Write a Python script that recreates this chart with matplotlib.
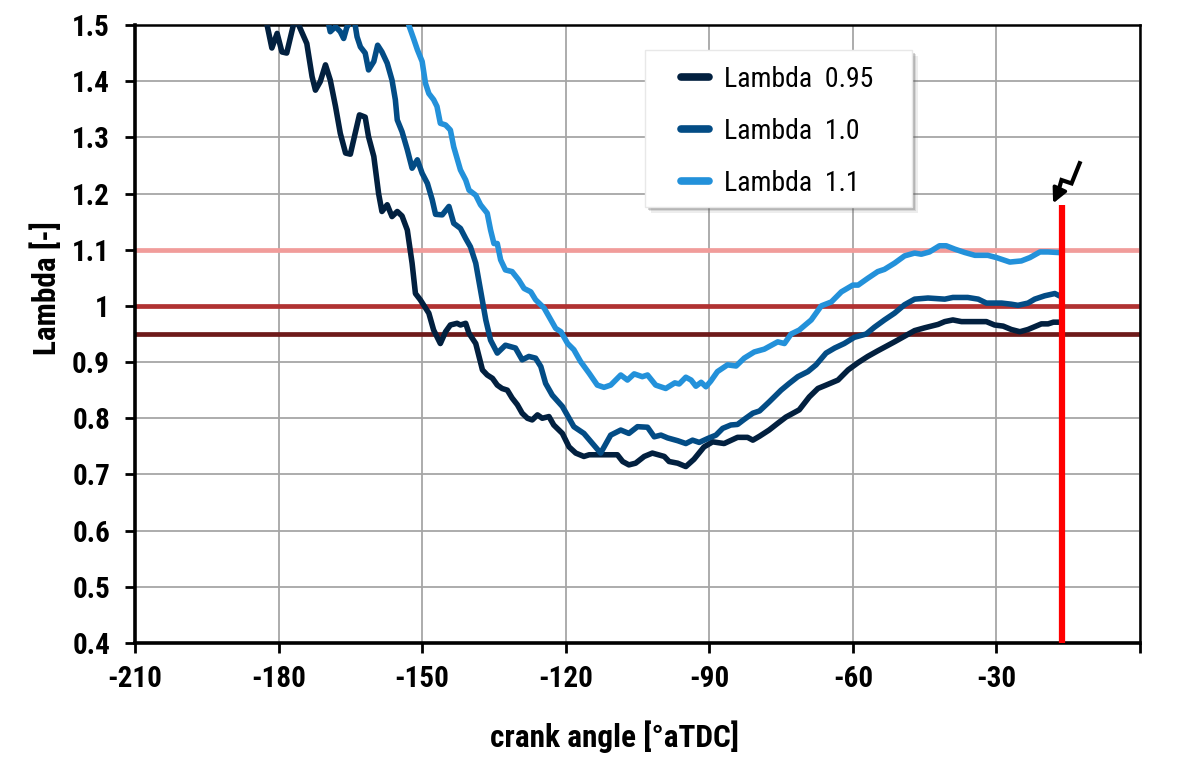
import matplotlib
matplotlib.use("Agg")
import matplotlib.pyplot as plt
from matplotlib import font_manager
from matplotlib.patches import Rectangle

# pick a narrow / condensed family if there is one
names = sorted({f.name for f in font_manager.fontManager.ttflist})
wanted = ['Liberation Sans Narrow', 'Roboto Condensed', 'Open Sans Condensed',
          'Noto Sans Condensed', 'DejaVu Sans Condensed']
narrow = next((n for n in wanted if n in names), None)
if narrow is None:
    narrow = next((n for n in names if 'Narrow' in n or 'Condensed' in n), 'DejaVu Sans')
plt.rcParams['font.family'] = [narrow, 'DejaVu Sans']
plt.rcParams['font.stretch'] = 'condensed'

# Lambda 0.95
x_095 = [-183.0, -182.4, -181.4, -180.3, -179.3, -178.3, -176.9, -176.3, -175.8, -174.1, -173.0,
         -172.3, -171.3, -170.2, -169.2, -168.1, -167.1, -166.0, -165.0, -164.0, -163.1, -161.9,
         -161.2, -160.1, -159.1, -158.4, -157.3, -156.3, -155.2, -154.2, -153.1, -152.1, -151.4,
         -150.4, -148.6, -147.6, -146.2, -145.1, -144.1, -142.7, -142.0, -140.9, -140.2, -138.8,
         -137.4, -136.4, -135.3, -134.3, -133.3, -132.2, -131.2, -130.1, -129.1, -128.0, -127.0,
         -125.9, -124.9, -123.5, -122.5, -120.7, -119.3, -117.9, -116.2, -115.1, -112.3, -109.2,
         -108.1, -106.8, -105.4, -103.6, -101.9, -99.4, -98.4, -96.6, -94.9, -93.2, -91.1, -89.3,
         -86.9, -84.1, -82.0, -80.9, -79.5, -77.5, -75.7, -74.0, -71.2, -69.1, -67.3, -65.6, -63.1,
         -61.0, -58.9, -56.9, -54.8, -51.3, -49.2, -47.1, -45.0, -42.2, -40.8, -39.1, -37.3, -34.5,
         -32.1, -30.4, -28.6, -26.9, -25.1, -23.4, -22.0, -20.6, -19.2, -18.1, -17.1]
y_095 = [1.56, 1.50, 1.459, 1.485, 1.452, 1.450, 1.50, 1.53, 1.50, 1.467, 1.408,
         1.384, 1.399, 1.429, 1.402, 1.355, 1.307, 1.272, 1.270, 1.307, 1.340, 1.336,
         1.301, 1.266, 1.200, 1.168, 1.180, 1.159, 1.168, 1.160, 1.135, 1.076, 1.022,
         1.011, 0.987, 0.957, 0.933, 0.954, 0.966, 0.969, 0.966, 0.969, 0.951, 0.933,
         0.886, 0.877, 0.871, 0.859, 0.853, 0.850, 0.836, 0.824, 0.809, 0.800, 0.797,
         0.806, 0.800, 0.803, 0.788, 0.773, 0.749, 0.738, 0.732, 0.735, 0.735, 0.735,
         0.723, 0.717, 0.720, 0.732, 0.738, 0.732, 0.723, 0.720, 0.714, 0.727, 0.749, 0.758,
         0.755, 0.766, 0.766, 0.761, 0.768, 0.779, 0.791, 0.802, 0.815, 0.838, 0.853, 0.859, 0.868,
         0.886, 0.899, 0.910, 0.920, 0.936, 0.946, 0.956, 0.961, 0.967, 0.972, 0.975, 0.972, 0.972,
         0.972, 0.966, 0.964, 0.958, 0.954, 0.958, 0.963, 0.968, 0.968, 0.971, 0.971]

# Lambda 1.0
x_100 = [-170.0, -169.5, -169.2, -168.1, -167.1, -166.4, -165.7, -165.4, -164.7, -164.0, -163.6,
         -162.9, -161.9, -161.2, -160.1, -159.3, -158.4, -157.3, -156.3, -155.6, -155.2, -154.2,
         -153.1, -152.1, -151.0, -150.0, -148.9, -147.9, -147.2, -145.8, -144.4, -143.4, -142.0,
         -140.9, -139.9, -138.8, -137.8, -136.7, -135.7, -134.3, -132.6, -130.5, -129.1, -127.7,
         -126.3, -125.2, -124.2, -122.8, -120.7, -118.3, -116.2, -112.7, -110.6, -108.5, -106.8,
         -105.0, -102.9, -101.5, -100.1, -98.7, -96.6, -94.9, -93.5, -92.1, -90.3, -88.6, -87.2,
         -85.5, -84.1, -82.7, -80.9, -79.5, -77.5, -75.0, -73.3, -71.5, -69.4, -67.7, -65.6, -63.8,
         -61.8, -59.7, -57.2, -55.5, -53.4, -51.3, -49.2, -47.1, -44.3, -40.8, -39.1, -36.0, -33.8,
         -32.1, -28.9, -26.9, -25.5, -23.4, -22.0, -19.9, -17.8, -17.1]
y_100 = [1.53, 1.50, 1.488, 1.497, 1.488, 1.476, 1.497, 1.50, 1.52, 1.50, 1.479,
         1.461, 1.450, 1.420, 1.435, 1.464, 1.452, 1.432, 1.402, 1.367, 1.331, 1.310,
         1.278, 1.245, 1.260, 1.236, 1.218, 1.189, 1.163, 1.162, 1.177, 1.147, 1.138,
         1.120, 1.105, 1.076, 1.028, 0.975, 0.939, 0.916, 0.930, 0.925, 0.904, 0.910,
         0.907, 0.892, 0.862, 0.841, 0.821, 0.785, 0.773, 0.738, 0.770, 0.779, 0.773,
         0.785, 0.784, 0.767, 0.770, 0.765, 0.760, 0.755, 0.761, 0.757, 0.764, 0.770, 0.782,
         0.788, 0.789, 0.798, 0.809, 0.813, 0.829, 0.850, 0.862, 0.874, 0.883, 0.895, 0.916, 0.925,
         0.933, 0.944, 0.950, 0.962, 0.975, 0.987, 1.002, 1.012, 1.014, 1.012, 1.015, 1.015, 1.012,
         1.005, 1.005, 1.003, 1.001, 1.005, 1.012, 1.018, 1.022, 1.019]

# Lambda 1.1
x_110 = [-153.5, -152.8, -151.8, -151.0, -150.0, -149.3, -148.6, -147.6, -146.9, -146.2, -145.1,
         -144.1, -143.4, -142.0, -140.9, -140.2, -138.8, -137.8, -136.4, -135.7, -135.0, -134.3,
         -133.6, -132.6, -131.2, -129.8, -128.7, -127.3, -126.3, -124.5, -123.1, -122.1, -121.0,
         -119.6, -118.3, -116.9, -115.1, -113.4, -112.0, -110.6, -108.5, -107.1, -105.7, -104.0,
         -102.9, -101.2, -99.1, -97.2, -96.3, -94.9, -93.8, -92.8, -91.7, -90.7, -89.7, -88.3,
         -86.2, -84.4, -82.7, -80.6, -78.5, -75.7, -74.3, -72.9, -71.2, -68.7, -66.6, -64.5, -62.4,
         -60.0, -58.9, -56.9, -54.8, -53.4, -51.3, -49.2, -47.1, -45.7, -44.0, -41.9, -40.5, -38.7,
         -36.6, -34.5, -31.8, -30.0, -27.2, -24.8, -23.0, -20.9, -19.2, -17.1]
y_110 = [1.55, 1.50, 1.476, 1.456, 1.435, 1.396, 1.378, 1.367, 1.355, 1.325, 1.322,
         1.313, 1.283, 1.242, 1.224, 1.206, 1.197, 1.180, 1.165, 1.135, 1.111, 1.111,
         1.082, 1.064, 1.061, 1.046, 1.031, 1.025, 1.011, 0.996, 0.975, 0.960, 0.954,
         0.933, 0.922, 0.901, 0.880, 0.859, 0.855, 0.859, 0.877, 0.868, 0.879, 0.874,
         0.877, 0.859, 0.853, 0.863, 0.861, 0.873, 0.868, 0.857, 0.864, 0.856, 0.866, 0.883,
         0.895, 0.893, 0.907, 0.918, 0.923, 0.936, 0.933, 0.950, 0.957, 0.975, 1.000, 1.007, 1.025,
         1.037, 1.037, 1.049, 1.061, 1.065, 1.076, 1.089, 1.094, 1.092, 1.096, 1.107, 1.107, 1.101,
         1.095, 1.090, 1.090, 1.086, 1.078, 1.080, 1.086, 1.096, 1.096, 1.095]

series_labels = ['Lambda  0.95', 'Lambda  1.0', 'Lambda  1.1']
series_colors = ['#02203f', '#034c85', '#2391da']

ref_levels = [1.1, 1.0, 0.95]
ref_colors = ['#f19c9a', '#b03232', '#6e1a1a']

marker_x = -16.4
marker_top = 1.18

x_ticks = [-210, -180, -150, -120, -90, -60, -30, 0]
x_tick_labels = ['-210', '-180', '-150', '-120', '-90', '-60', '-30', '']
y_ticks = [0.4, 0.5, 0.6, 0.7, 0.8, 0.9, 1.0, 1.1, 1.2, 1.3, 1.4, 1.5]
y_tick_labels = ['0.4', '0.5', '0.6', '0.7', '0.8', '0.9', '1', '1.1', '1.2', '1.3', '1.4', '1.5']

fig = plt.figure(figsize=(12, 7.66), dpi=100)
ax = fig.add_axes([0.1125, 0.1606, 0.8375, 0.8068])

ax.set_xlim(-210, 0)
ax.set_ylim(0.4, 1.5)
ax.grid(True, color='#a6a6a6', linewidth=1.3)
ax.set_axisbelow(True)

for lvl, c in zip(ref_levels, ref_colors):
    ax.axhline(lvl, color=c, linewidth=3.4, zorder=2)

for xs, ys, lab, c in zip([x_095, x_100, x_110], [y_095, y_100, y_110], series_labels, series_colors):
    ax.plot(xs, ys, color=c, linewidth=4, label=lab, zorder=3, solid_joinstyle='round')

ax.plot([marker_x, marker_x], [0.4, marker_top], color='#ff0000', linewidth=4.5,
        solid_capstyle='butt', zorder=4)

# lightning arrow
ax.plot([-12.6, -14.3, -16.4, -17.3], [1.254, 1.218, 1.224, 1.197], color='black',
        linewidth=3, zorder=5, clip_on=False, solid_joinstyle='miter')
ax.annotate('', xy=(-18.4, 1.178), xytext=(-17.2, 1.200),
            arrowprops=dict(arrowstyle='-|>', color='black', lw=2.5, mutation_scale=22),
            zorder=5)

ax.set_xticks(x_ticks)
ax.set_xticklabels(x_tick_labels)
ax.set_yticks(y_ticks)
ax.set_yticklabels(y_tick_labels)
ax.tick_params(axis='both', direction='out', length=7, width=2, labelsize=21)
ax.tick_params(axis='x', pad=9)
ax.tick_params(axis='y', pad=11)
for t in ax.get_xticklabels() + ax.get_yticklabels():
    t.set_fontweight('bold')

for side in ['left', 'bottom']:
    ax.spines[side].set_linewidth(2.6)
for side in ['top', 'right']:
    ax.spines[side].set_linewidth(1.8)

ax.set_xlabel('crank angle [°aTDC]', fontsize=22.5, fontweight='bold')
ax.set_ylabel('Lambda [-]', fontsize=22.5, fontweight='bold')
ax.xaxis.set_label_coords(0.477, -0.125)
ax.yaxis.set_label_coords(-0.073, 0.575)

# legend box with a soft shadow, drawn by hand
box_x, box_y, box_w, box_h = 0.5075, 0.7055, 0.2656, 0.254
for off, alpha in [(0.009, 0.10), (0.007, 0.15), (0.005, 0.25)]:
    ax.add_patch(Rectangle((box_x + off * 0.62, box_y - off), box_w, box_h,
                           transform=ax.transAxes, facecolor='#555555', edgecolor='none',
                           alpha=alpha, zorder=6))
ax.add_patch(Rectangle((box_x, box_y), box_w, box_h, transform=ax.transAxes,
                       facecolor='white', edgecolor='#e8e8e8', linewidth=1.0, zorder=6.5))

leg = ax.legend(loc='upper left', bbox_to_anchor=(0.543, 0.934), fontsize=20,
                frameon=False, handlelength=1.03, handletextpad=0.54, borderpad=0,
                labelspacing=0.9, borderaxespad=0)
leg.set_zorder(7)
for h in leg.get_lines():
    h.set_linewidth(5.5)
    h.set_solid_capstyle('round')

fig.savefig('out.png', dpi=100)
